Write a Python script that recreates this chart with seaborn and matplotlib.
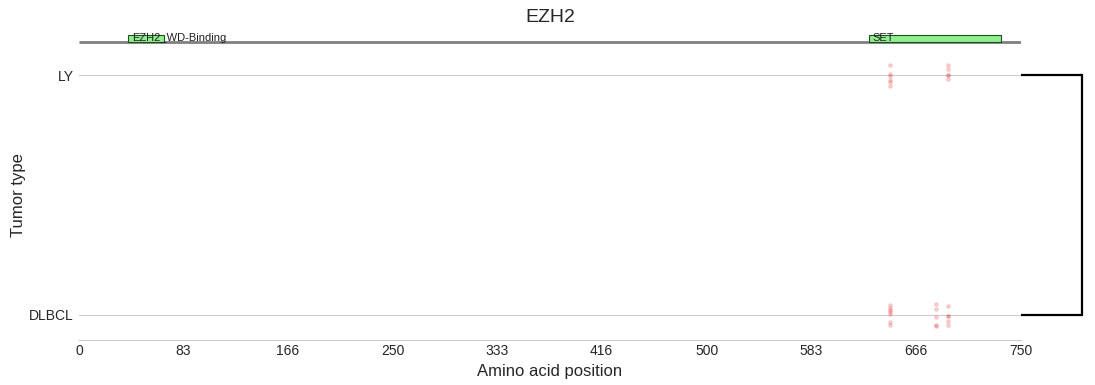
import numpy as np
import pandas as pd
import matplotlib
matplotlib.use("Agg")
import matplotlib.pyplot as plt
import seaborn as sns

# ---- data ----
gene = "EZH2"
protein_length = 750
tumor_types = ["LY", "DLBCL"]
mut_tumor = (["LY"] * 6 + ["LY"] * 5 +
             ["DLBCL"] * 7 + ["DLBCL"] * 5 + ["DLBCL"] * 5)
mut_position = ([646] * 6 + [692] * 5 +
                [646] * 7 + [682] * 5 + [692] * 5)
domain_names = ["EZH2_WD-Binding", "SET"]
domain_starts = [39, 629]
domain_ends = [68, 734]
x_ticks = [0, 83, 166, 250, 333, 416, 500, 583, 666, 750]

df = pd.DataFrame({"Tumor type": mut_tumor, "Amino acid position": mut_position})

sns.set_style("whitegrid")
plt.rcParams["font.family"] = ["Liberation Sans", "DejaVu Sans"]

W, H = 1095, 385
fig = plt.figure(figsize=(W / 100, H / 100), dpi=100)

def box(x0, y0, x1, y1):
    return [x0 / W, 1 - y1 / H, (x1 - x0) / W, (y1 - y0) / H]

# main axes
ax = fig.add_axes(box(79, 50, 1021, 340))
np.random.seed(7)
sns.stripplot(data=df, x="Amino acid position", y="Tumor type", order=tumor_types,
              orient="h", jitter=0.05, color="#e03030", alpha=0.22, size=2.6,
              linewidth=0.6, edgecolor="#e03030", ax=ax)
ax.set_xlim(0, protein_length)
ax.set_ylim(1.1042, -0.1042)
ax.set_xticks(x_ticks)
ax.set_xticklabels([str(t) for t in x_ticks], fontsize=10)
ax.tick_params(axis="y", labelsize=10, length=0, pad=4)
ax.tick_params(axis="x", length=0, pad=3)
ax.grid(False, axis="x")
ax.grid(True, axis="y", color="#cccccc", linewidth=0.8)
for s in ["top", "right", "left"]:
    ax.spines[s].set_visible(False)
ax.spines["bottom"].set_color("#cccccc")
ax.set_xlabel("Amino acid position", fontsize=12, labelpad=4)
ax.set_ylabel("Tumor type", fontsize=12, labelpad=2)

# domain track
axd = fig.add_axes(box(79, 28, 1021, 48))
axd.set_xlim(0, protein_length)
axd.set_ylim(0, 1)
axd.plot([0, protein_length], [0.325, 0.325], color="#808080", linewidth=2.0,
         solid_capstyle="butt", zorder=1)
axd.barh([0.4675] * len(domain_starts),
         [e - s for s, e in zip(domain_starts, domain_ends)],
         left=domain_starts, height=0.365, color="#90ee90",
         edgecolor="#1f4f1f", linewidth=0.8, zorder=2)
for n, s in zip(domain_names, domain_starts):
    axd.text(s + 3, 0.5, n, fontsize=8, ha="left", va="center", color="#222222",
             zorder=3)
axd.axis("off")

fig.text(550 / W, 1 - 18 / H, gene, fontsize=14, ha="center", va="center")

# dendrogram bracket
axr = fig.add_axes(box(1021, 50, 1085, 340))
axr.plot([0, 1, 1, 0], [0, 0, 1, 1], color="black", linewidth=1.6,
         solid_joinstyle="miter")
axr.set_xlim(0, 64 / 61)
axr.set_ylim(1.1042, -0.1042)
axr.axis("off")

fig.savefig("out.png", dpi=100)
